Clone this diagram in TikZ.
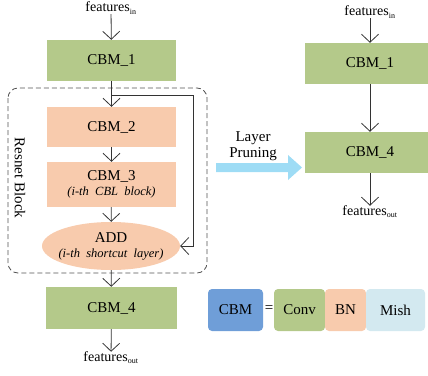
\documentclass[tikz,border=0pt]{standalone}
\usepackage{fontspec}
\setmainfont{Liberation Serif}
\usetikzlibrary{arrows.meta,shapes.geometric}
\definecolor{cbmgreen}{HTML}{B4C98A}
\definecolor{cbmpeach}{HTML}{F8CBAD}
\definecolor{cbmblue}{HTML}{6F9ED8}
\definecolor{mishcyan}{HTML}{D3E9F0}
\definecolor{prunecyan}{HTML}{9EDCF5}
\definecolor{linegray}{HTML}{333333}
\tikzset{
  x=1pt, y=-1pt,
  lbl/.style={font=\fontsize{15}{17}\selectfont, inner sep=0pt},
  gbox/.style={lbl, rectangle, fill=cbmgreen, minimum width=129pt, minimum height=41pt},
  pbox/.style={lbl, rectangle, fill=cbmpeach, minimum width=129pt},
  legendbox/.style={lbl, rectangle, rounded corners=4pt, minimum height=42pt},
  feat/.style={font=\fontsize{14}{16}\selectfont, inner sep=0pt},
  arr/.style={draw=linegray, line width=0.8pt, -{Straight Barb[length=8pt,width=17pt,line width=0.8pt]}},
}
\newcommand{\fsub}[1]{features\textsubscript{\fontsize{8}{9}\selectfont #1}}
\newcommand{\roleline}[1]{{\fontsize{12.5}{14}\selectfont\itshape #1}}
% fixed-width line so the ellipse keeps its size
\newcommand{\fixline}[1]{\makebox[90pt][c]{#1}}
\begin{document}
\begin{tikzpicture}
\useasboundingbox (0,0) rectangle (428,375);
\clip (0,0) rectangle (428,375);

% ---------------- original network with a residual block ----------------
\node[feat] (inL) at (111,8) {\fsub{in}};
\node[gbox] (c1L) at (111.5,60.5) {CBM\_1};
\node[pbox, minimum height=40pt] (c2) at (111.5,127) {CBM\_2};
\node[pbox, minimum height=45pt, align=center] (c3) at (111.5,184.5)
  {CBM\_3\\[-2pt]\roleline{(i-th\ \ CBL\ \ block)}};
\node[lbl, ellipse, fill=cbmpeach, minimum width=138pt, minimum height=48pt, align=center] (add) at (111,246)
  {\fixline{ADD}\\[-2pt]\fixline{\roleline{(i-th\ \ shortcut\ \ layer)}}};
\node[gbox, minimum width=131pt, minimum height=42pt] (c4L) at (111.5,308) {CBM\_4};
\node[feat] (outL) at (111,358) {\fsub{out}};

% residual block frame and its label
\draw[linegray!85, line width=0.8pt, dash pattern=on 5pt off 3pt, rounded corners=10pt]
  (8,88) rectangle (207,273);
\node[lbl, rotate=-90] (rb) at (20,178) {Resnet Block};

% main data path
\draw[arr] (inL) -- (c1L);
\draw[arr] (c1L) -- (c2);
\draw[arr] (c2) -- (c3);
\draw[arr] (c3) -- (add);
\draw[arr] (add) -- (c4L);
\draw[arr] (c4L) -- (outL);

% shortcut connection
\coordinate (branch) at (111.5,95);
\coordinate (sc) at (193,246);
\draw[arr] (branch) -| (sc) -- (add.east);

% ---------------- pruning arrow ----------------
\fill[prunecyan] (216,163) -- (288,163) -- (288,155) -- (302,167.5)
  -- (288,180) -- (288,172) -- (216,172) -- cycle;
\node[lbl, align=center] (prune) at (253,146) {Layer\\[-1pt]Pruning};

% ---------------- pruned network ----------------
\node[feat] (inR) at (370,12) {\fsub{in}};
\node[gbox, minimum width=130pt] (c1R) at (370,63.5) {CBM\_1};
\node[gbox, minimum width=130pt] (c4R) at (370,152.5) {CBM\_4};
\node[feat] (outR) at (370,212) {\fsub{out}};
\draw[arr] (inR) -- (c1R);
\draw[arr] (c1R) -- (c4R);
\draw[arr] (c4R) -- (outR);

% ---------------- legend ----------------
\node[legendbox, fill=cbmblue, minimum width=55pt] (cbm) at (235.5,310) {CBM};
\node[lbl] (eq) at (269,309) {=};
\node[legendbox, fill=cbmgreen, minimum width=51pt] (conv) at (299.5,310) {Conv};
\node[legendbox, fill=cbmpeach, minimum width=41pt] (bn) at (345.5,310) {BN};
\node[legendbox, fill=mishcyan, minimum width=59pt] (mish) at (395.5,310) {Mish};
\end{tikzpicture}
\end{document}
